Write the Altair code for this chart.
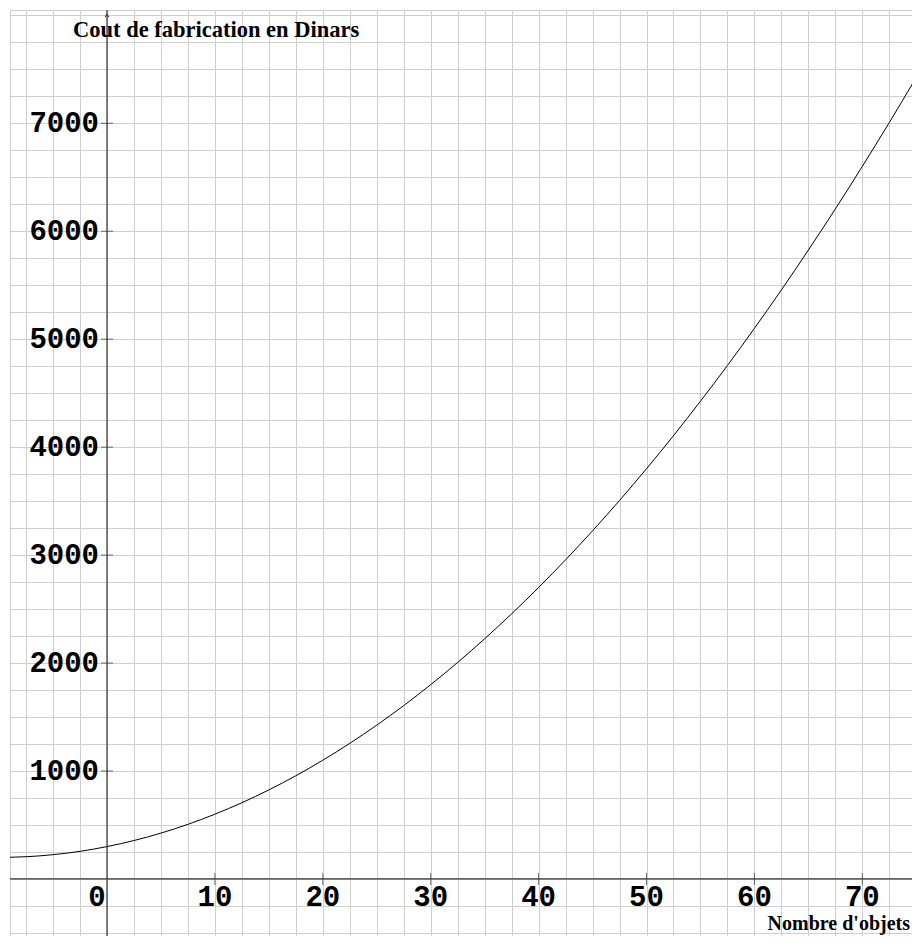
import altair as alt
import pandas as pd

# Curve (Nombre d'objets -> Cout en Dinars)
objets = [-9, -7.5, -5, -2.5, 0, 2.5, 5, 7.5, 10, 12.5, 15, 17.5, 20, 22.5, 25,
          27.5, 30, 32.5, 35, 37.5, 40, 42.5, 45, 47.5, 50, 52.5, 55, 57.5, 60,
          62.5, 65, 67.5, 70, 72.5, 75, 76]
cout = [201, 206, 225, 256, 300, 356, 425, 506, 600, 706, 825, 956, 1100, 1256,
        1425, 1606, 1800, 2006, 2225, 2456, 2700, 2956, 3225, 3506, 3800, 4106,
        4425, 4756, 5100, 5456, 5825, 6206, 6600, 7006, 7425, 7596]

x_ticks = [10, 20, 30, 40, 50, 60, 70]
y_ticks = [1000, 2000, 3000, 4000, 5000, 6000, 7000]
x_grid = [-7.5 + 2.5 * i for i in range(34)]
y_grid = [-500 + 250 * i for i in range(35)]

W, H = 902, 926
X_DOMAIN = [-8.99, -8.99 + W / 10.79]
Y_DOMAIN = [8049 - H / 0.10796, 8049]

curve = pd.DataFrame({"x": objets, "y": cout})
xt = pd.DataFrame({"x": x_ticks, "y": [0] * len(x_ticks), "label": [str(v) for v in x_ticks]})
yt = pd.DataFrame({"x": [0] * len(y_ticks), "y": y_ticks, "label": [str(v) for v in y_ticks]})
origin = pd.DataFrame({"x": [0], "y": [0], "label": ["0"]})

xs = alt.Scale(domain=X_DOMAIN, nice=False, zero=False)
ys = alt.Scale(domain=Y_DOMAIN, nice=False, zero=False)

grid_axis_x = alt.Axis(values=x_grid, tickCount=200, grid=True, labels=False, ticks=False,
                       domain=False, title=None, gridColor="#cfcfcf", gridWidth=1, gridOpacity=1)
grid_axis_y = alt.Axis(values=y_grid, tickCount=200, grid=True, labels=False, ticks=False,
                       domain=False, title=None, gridColor="#cfcfcf", gridWidth=1, gridOpacity=1)

line = alt.Chart(curve).mark_line(color="black", strokeWidth=1, clip=True,
                                  interpolate="monotone").encode(
    x=alt.X("x:Q", scale=xs, axis=grid_axis_x),
    y=alt.Y("y:Q", scale=ys, axis=grid_axis_y),
)

axis_color = "#333333"
y_axis_line = alt.Chart(origin).mark_rule(color=axis_color, strokeWidth=1.2).encode(
    x=alt.X("x:Q", scale=xs), y=alt.value(0), y2=alt.value(H))
x_axis_line = alt.Chart(origin).mark_rule(color=axis_color, strokeWidth=1.2).encode(
    y=alt.Y("y:Q", scale=ys), x=alt.value(0), x2=alt.value(W))

arrow = alt.Chart(origin).mark_point(
    shape="M -0.6 1 L 0 0 L 0.6 1", filled=False, color=axis_color,
    strokeWidth=1, size=40, opacity=1).encode(
    x=alt.X("x:Q", scale=xs), y=alt.value(4))

xticks = alt.Chart(xt).mark_tick(orient="vertical", size=12, thickness=1,
                                 color=axis_color).encode(
    x=alt.X("x:Q", scale=xs), y=alt.Y("y:Q", scale=ys))
yticks = alt.Chart(yt).mark_tick(orient="horizontal", size=12, thickness=1,
                                 color=axis_color).encode(
    x=alt.X("x:Q", scale=xs), y=alt.Y("y:Q", scale=ys))

lab_font = dict(font="Liberation Mono", fontWeight="bold", fontSize=29, color="black")
xlabels = alt.Chart(xt).mark_text(align="center", baseline="middle", dy=18, **lab_font).encode(
    x=alt.X("x:Q", scale=xs), y=alt.Y("y:Q", scale=ys), text="label:N")
ylabels = alt.Chart(yt).mark_text(align="right", baseline="middle", dx=-8, **lab_font).encode(
    x=alt.X("x:Q", scale=xs), y=alt.Y("y:Q", scale=ys), text="label:N")
zlabel = alt.Chart(origin).mark_text(align="center", baseline="middle", dx=-10, dy=18, **lab_font).encode(
    x=alt.X("x:Q", scale=xs), y=alt.Y("y:Q", scale=ys), text="label:N")

ytitle = alt.Chart(origin).mark_text(align="left", baseline="alphabetic",
                                     text="Cout de fabrication en Dinars", fontSize=22.5,
                                     font="Liberation Serif", fontWeight="bold",
                                     color="black").encode(
    x=alt.value(63), y=alt.value(27))
xtitle = alt.Chart(origin).mark_text(align="right", baseline="alphabetic",
                                     text="Nombre d'objets", fontSize=20,
                                     font="Liberation Serif", fontWeight="bold",
                                     color="black").encode(
    x=alt.value(W - 2), y=alt.value(H - 6))

chart = alt.layer(
    line, y_axis_line, x_axis_line, arrow, xticks, yticks,
    xlabels, ylabels, zlabel, ytitle, xtitle
).properties(
    width=W, height=H,
    autosize=alt.AutoSizeParams(type="none"),
    padding={"left": 2, "top": 2, "right": 0, "bottom": 0},
).configure_view(stroke="#cfcfcf", strokeWidth=1)

chart.save("out.html", embed_options={"renderer": "svg", "actions": False})
